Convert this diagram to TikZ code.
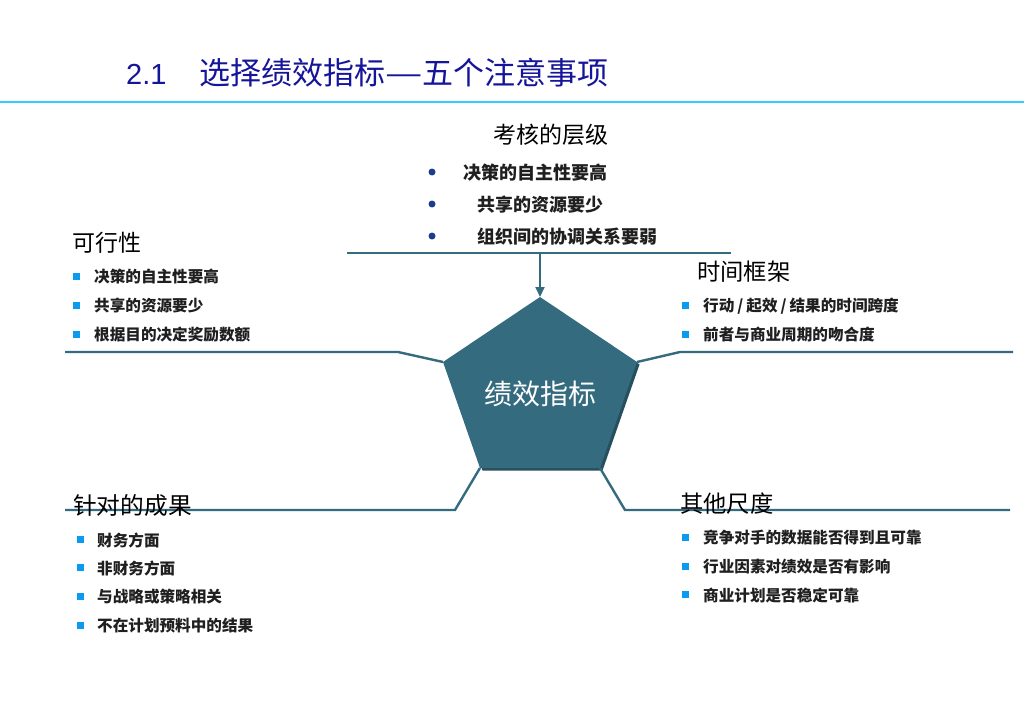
\documentclass[tikz,border=0pt]{standalone}
\usepackage{fontspec}
\setmainfont{Noto Sans CJK SC}
\newfontfamily\cjk{Noto Sans CJK SC}
\newfontfamily\latinsans{Liberation Sans}
\usetikzlibrary{arrows.meta}
\definecolor{titleblue}{HTML}{15159A}
\definecolor{cyanline}{HTML}{33CCFF}
\definecolor{teal}{HTML}{356B7E}
\definecolor{tealdark}{HTML}{26505F}
\definecolor{sqblue}{HTML}{0A9AF0}
\definecolor{dotblue}{HTML}{1C3E8C}
\tikzset{
  conn/.style={draw=teal, line width=2.4pt},
  head/.style={anchor=west, inner sep=0pt, font=\cjk\fontsize{23}{25}\selectfont, text=black},
  itemL/.style={anchor=west, inner sep=0pt, font=\cjk\bfseries\fontsize{15.6}{17}\selectfont, text=black!88},
  itemT/.style={anchor=west, inner sep=0pt, font=\cjk\bfseries\fontsize{18}{20}\selectfont, text=black!88},
  sq/.style={fill=sqblue, draw=none, minimum size=7pt, inner sep=0pt},
  dotb/.style={circle, fill=dotblue, draw=none, minimum size=7pt, inner sep=0pt}
}
\begin{document}
\begin{tikzpicture}[x=1pt,y=-1pt]
\useasboundingbox (0,0) rectangle (1024,709);
\fill[white] (0,0) rectangle (1024,709);
% title
\node[anchor=west, inner sep=0pt, text=titleblue, font=\cjk\fontsize{31}{33}\selectfont] (title) at (126,73) {{\latinsans\fontsize{29}{31}\selectfont 2.1}\hspace{33pt}选择绩效指标\scalebox{1.35}[1]{—}五个注意事项};
\coordinate (tl) at (0,102); \coordinate (tr) at (1024,102);
\draw[cyanline, line width=1.2pt] (tl) -- (tr);

% pentagon vertices
\coordinate (pT) at (540,297);
\coordinate (pUL) at (443,362);
\coordinate (pUR) at (637,362);
\coordinate (pBL) at (480,468);
\coordinate (pBR) at (600,468);
\fill[tealdark] ([shift={(2.5,2.5)}]pT) -- ([shift={(2.5,2.5)}]pUR) -- ([shift={(2.5,2.5)}]pBR) -- ([shift={(2.5,2.5)}]pBL) -- ([shift={(2.5,2.5)}]pUL) -- cycle;
\fill[teal] (pT) -- (pUR) -- (pBR) -- (pBL) -- (pUL) -- cycle;
\node[inner sep=0pt, text=white, font=\cjk\fontsize{28}{30}\selectfont] (center) at (540,394) {绩效指标};

% connectors
\coordinate (topL) at (347,253); \coordinate (topR) at (731,253); \coordinate (topM) at (540,253);
\draw[conn, line width=2pt] (topL) -- (topR);
\draw[conn, line width=2pt, -{Triangle[length=10pt,width=9pt]}] (topM) -- (pT);

\coordinate (lA) at (65,352); \coordinate (lB) at (398,352);
\draw[conn] (lA) -- (lB) -- (pUL);
\coordinate (rA) at (1013,352); \coordinate (rB) at (680,352);
\draw[conn] (pUR) -- (rB) -- (rA);
\coordinate (blA) at (65,510); \coordinate (blB) at (455,510);
\draw[conn] (pBL) -- (blB) -- (blA);
\coordinate (brA) at (1010,510); \coordinate (brB) at (625,510);
\draw[conn] (pBR) -- (brB) -- (brA);

% top block
\node[head, anchor=center] (h1) at (551,135) {考核的层级};
\node[dotb] (d1) at (432,172) {};
\node[dotb] (d2) at (432,204) {};
\node[dotb] (d3) at (432,236) {};
\node[itemT] (t1) at (463,173) {决策的自主性要高};
\node[itemT] (t2) at (477,205) {共享的资源要少};
\node[itemT] (t3) at (477,237) {组织间的协调关系要弱};

% left block
\node[head] (h2) at (72,243) {可行性};
\node[sq] (s1) at (76,276) {};
\node[sq] (s2) at (76,305) {};
\node[sq] (s3) at (76,334) {};
\node[itemL] (l1) at (94,277) {决策的自主性要高};
\node[itemL] (l2) at (94,306) {共享的资源要少};
\node[itemL] (l3) at (94,335) {根据目的决定奖励数额};

% right block
\node[head, font=\cjk\fontsize{23.3}{25}\selectfont] (h3) at (697,272) {时间框架};
\node[sq] (s4) at (685,305) {};
\node[sq] (s5) at (685,334) {};
\node[itemL] (r1) at (703,306) {行动\hspace{3pt}/\hspace{3pt}起效\hspace{3pt}/\hspace{3pt}结果的时间跨度};
\node[itemL] (r2) at (703,335) {前者与商业周期的吻合度};

% bottom-left block
\node[head, font=\cjk\fontsize{23.7}{25}\selectfont] (h4) at (73,506) {针对的成果};
\node[sq] (s6) at (80,539) {};
\node[sq] (s7) at (80,567) {};
\node[sq] (s8) at (80,596) {};
\node[sq] (s9) at (80,625) {};
\node[itemL] (b1) at (97,540) {财务方面};
\node[itemL] (b2) at (97,568) {非财务方面};
\node[itemL] (b3) at (97,597) {与战略或策略相关};
\node[itemL] (b4) at (97,626) {不在计划预料中的结果};

% bottom-right block
\node[head, font=\cjk\fontsize{23.3}{25}\selectfont] (h5) at (680,504) {其他尺度};
\node[sq] (s10) at (685,537) {};
\node[sq] (s11) at (685,566) {};
\node[sq] (s12) at (685,594) {};
\node[itemL] (c1) at (703,538) {竞争对手的数据能否得到且可靠};
\node[itemL] (c2) at (703,567) {行业因素对绩效是否有影响};
\node[itemL] (c3) at (703,595) {商业计划是否稳定可靠};
\end{tikzpicture}
\end{document}
